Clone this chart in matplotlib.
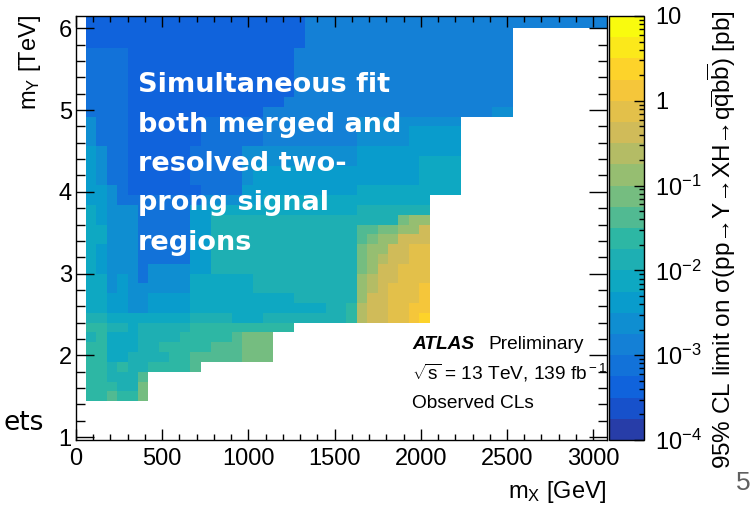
import numpy as np
import matplotlib
matplotlib.use('Agg')
import matplotlib.pyplot as plt
from matplotlib.colors import LinearSegmentedColormap, ListedColormap, LogNorm
from matplotlib.ticker import MultipleLocator, FuncFormatter, LogLocator, NullFormatter

plt.rcParams['font.family'] = ['Liberation Sans', 'DejaVu Sans']
plt.rcParams['mathtext.fontset'] = 'custom'
plt.rcParams['mathtext.rm'] = 'Liberation Sans'
plt.rcParams['mathtext.it'] = 'Liberation Sans:italic'
plt.rcParams['mathtext.bf'] = 'Liberation Sans:bold'
plt.rcParams['mathtext.sf'] = 'Liberation Sans'

# histogram binning
mx_edges = np.linspace(58, 3078, 51)                                   # GeV
my_edges = np.append(np.round(1.44 + 0.12 * np.arange(39), 2), 6.15)   # TeV

# contour level of each cell (0..19 -> 10^-4 .. 10^1, 4 per decade), '.' = no point
# first string = top row (mY ~ 6.1 TeV), last = bottom row (mY ~ 1.5 TeV)
limit_rows = [
    "222222222222222222222 44444444444444444444444444444",
    "222222222222222222222 44444444444444444444",
    "222222222222222222222 44444444444444444444",
    "3333 2222222222222222 444444444444444444444",
    "3333 2222222222222222 444444444444444444444",
    "3333 2222222222222222 444444444444444444444",
    "3333 2222222222222222 444444444444444444444",
    "3333 2222222222222222 444444444444444444444",
    "3333 222222222222222 4444444444444444444444",
    "3333 2222222222222 4444444444444444444444 55",
    "5 333 2222222 333333 444444444 5555555555",
    "5 333 2222222 333333 444444444 55555 66666",
    "5 333 2222222 333333 444444444 55555 66666",
    "6 5 33 222222 33333 55 555555555 666666 6666",
    "6 5 33 222222 33333 55 555555555 666666 7777",
    "6 5 33 222222 33333 5 6 666666666666666 7777",
    "6 5 33 222222 33333 5 6 666666666666666 7777",
    "6 6 5 3 2222222 3333 66 666666666 7777777777",
    "6 6 5 3 3333333 5555 66 7777777777777777",
    "7 6 555 33333 66 77777 777777777 8888888",
    "7 6 555 33333 66 888888888888888888 b cc",
    "7 7 555 33333 66 88888888888888 aabbcce",
    "7 7 555 33333 66 88888888888888 abcceee",
    "7 6 555 33333 66 88888888888888 bcceeff",
    "7 6 555 33333 66 88888888888888 bcdeeff",
    "7 6 555 3 5555 66 88888888888888 bceefff",
    "7 7 5 6 5 3 5555 777777 8888888888 cdeefff",
    "7 7 5 6 5 5 5555 777777 8888888888 cdefffg",
    "7 7 6 6 5 5 6666 7777777777 888888 ceefffg",
    "7 7 6 6 5 5 6666 7777777777777 88 9 deeffgg",
    "8 8 77777777 8888 777 88888888 9 deeffgh",
    "9 9 8 8 7 88888 9999999999",
    "8 9 777 8888 99999 a bbb",
    "9 9 777 88 99999 aaa bbb",
    "9 9 77 8888 99 aaaaa bbb",
    "9 9 8 9 88 9999 a",
    "9 9 888 a",
    "9 9 9 88 b",
    "9 9 a 99 b",
]

cb_ticks = [1e-4, 1e-3, 1e-2, 1e-1, 1, 10]

overlay_lines = ["Simultaneous fit", "both merged and", "resolved two-",
                 "prong signal", "regions"]

# ROOT kBird palette
bird_stops = [0.0, 0.125, 0.25, 0.375, 0.5, 0.625, 0.75, 0.875, 1.0]
bird_r = [0.2082, 0.0592, 0.0780, 0.0232, 0.1802, 0.5301, 0.8186, 0.9956, 0.9764]
bird_g = [0.1664, 0.3599, 0.5041, 0.6419, 0.7178, 0.7492, 0.7328, 0.7862, 0.9832]
bird_b = [0.5293, 0.8684, 0.8385, 0.7914, 0.6425, 0.4662, 0.3499, 0.1968, 0.0539]
bird = LinearSegmentedColormap.from_list(
    'bird', list(zip(bird_stops, zip(bird_r, bird_g, bird_b))))
ncont = 20
cmap = ListedColormap([bird((k + 0.99) / ncont) for k in range(ncont)])
cmap.set_bad('white')
norm = LogNorm(1e-4, 10)

nrow, ncol = len(my_edges) - 1, len(mx_edges) - 1
lev = np.full((nrow, ncol), np.nan)
for i, row in enumerate(limit_rows[::-1]):
    row = row.replace(' ', '').ljust(ncol, '.')
    assert len(row) == ncol, (i, len(row))
    for j, ch in enumerate(row):
        if ch != '.':
            lev[i, j] = int(ch, 36)
limit = np.ma.masked_invalid(10 ** (-4 + (lev + 0.5) / 4))

W, H = 752, 514
fig = plt.figure(figsize=(W / 100, H / 100), dpi=100)
ax = fig.add_axes([76 / W, 1 - 440 / H, (607 - 76) / W, (440 - 16) / H])
mesh = ax.pcolormesh(mx_edges, my_edges, limit, cmap=cmap, norm=norm,
                     shading='flat', antialiased=False, edgecolors='none')
ax.set_xlim(0, 3080)
ax.set_ylim(0.965, 6.15)
ax.xaxis.set_major_locator(MultipleLocator(500))
ax.xaxis.set_minor_locator(MultipleLocator(100))
ax.yaxis.set_major_locator(MultipleLocator(1))
ax.yaxis.set_minor_locator(MultipleLocator(0.2))
ax.tick_params(which='both', direction='in', top=True, right=True, width=1)
ax.tick_params(axis='x', which='major', length=7.7, pad=6, labelsize=17)
ax.tick_params(axis='x', which='minor', length=4.1)
ax.tick_params(axis='y', which='major', length=13, pad=3, labelsize=17)
ax.tick_params(axis='y', which='minor', length=6.5)
for s in ax.spines.values():
    s.set_linewidth(1)

cax = fig.add_axes([609 / W, 1 - 440 / H, 35 / W, 424 / H])
cb = fig.colorbar(mesh, cax=cax)
cb.outline.set_linewidth(1)
cax.yaxis.set_minor_locator(LogLocator(base=10, subs=np.arange(2, 10), numticks=10))
cax.yaxis.set_minor_formatter(NullFormatter())


def cb_fmt(v, pos):
    e = int(round(np.log10(v)))
    if e == 0:
        return '1'
    if e == 1:
        return '10'
    return r'$10^{%d}$' % e


cax.set_yticks(cb_ticks)
cax.yaxis.set_major_formatter(FuncFormatter(cb_fmt))
cax.tick_params(which='both', direction='in', right=True, left=False, width=1)
cax.tick_params(which='major', length=7, pad=8, labelsize=17)
cax.tick_params(which='minor', length=3.6)

fig.text(722 / W, 1 - 10 / H,
         '95% CL limit on σ(pp→Y→XH→q$\\overline{\\rm q}$b$\\overline{\\rm b}$) [pb]',
         rotation=90, ha='center', va='top', fontsize=17.5)
fig.text(30 / W, 1 - 15 / H, r'm$_{\rm Y}$ [TeV]', rotation=90,
         ha='center', va='top', fontsize=17)
fig.text(607 / W, 1 - 498 / H, r'm$_{\rm X}$ [GeV]', ha='right',
         va='baseline', fontsize=17)

fig.text(412 / W, 1 - 349 / H, 'ATLAS', fontsize=13.8, fontweight='bold',
         fontstyle='italic', va='baseline')
fig.text(488 / W, 1 - 349 / H, 'Preliminary', fontsize=13.8, va='baseline')
fig.text(412 / W, 1 - 380 / H, r'$\sqrt{\rm s}$ = 13 TeV, 139 fb$^{\rm -1}$',
         fontsize=13.8, va='baseline')
fig.text(412 / W, 1 - 408 / H, 'Observed CLs', fontsize=13.8, va='baseline')

for i, line in enumerate(overlay_lines):
    fig.text(138 / W, 1 - (92 + 39.5 * i) / H, line, color='white',
             fontsize=19.5, fontweight='bold', family='DejaVu Sans',
             va='baseline')

fig.text(44 / W, 1 - 430 / H, 'ets', ha='right', va='baseline',
         fontsize=19, family='DejaVu Sans')
fig.text(751 / W, 1 - 490 / H, '5', ha='right', va='baseline',
         fontsize=19, color='#606060')

fig.savefig('out.png', dpi=100)
